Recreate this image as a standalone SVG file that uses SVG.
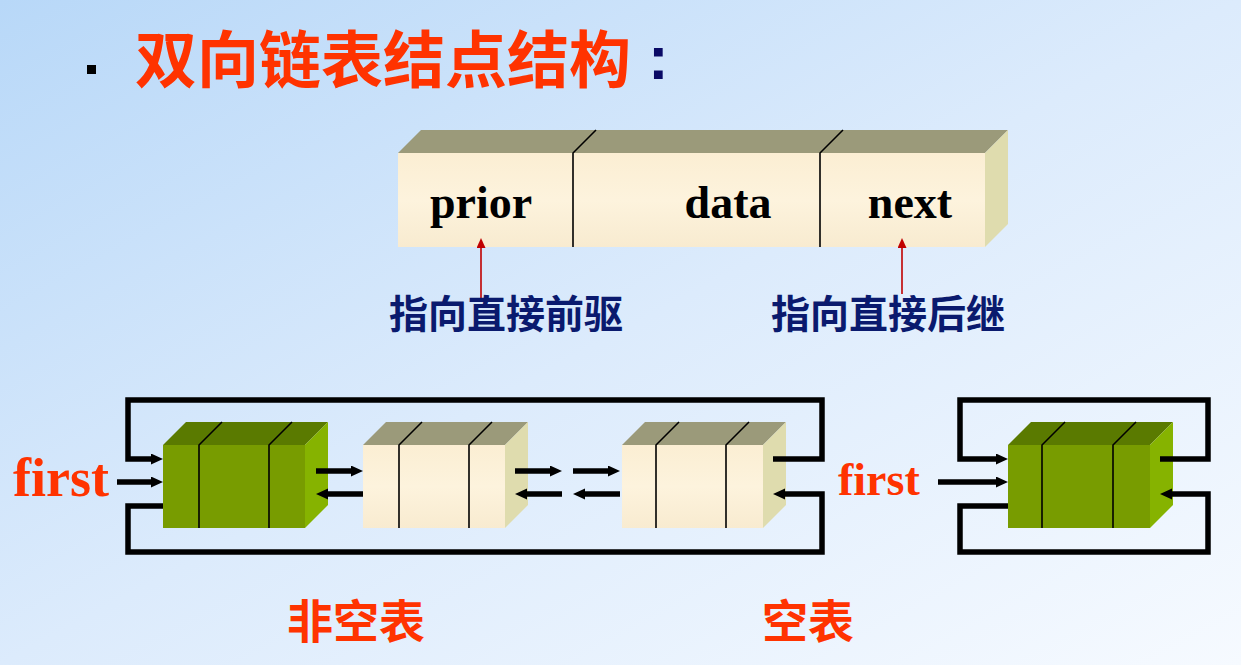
<svg xmlns="http://www.w3.org/2000/svg" width="1241" height="665" viewBox="0 0 1241 665">
<defs>
<linearGradient id="bg" x1="0" y1="0" x2="1" y2="1">
<stop offset="0" stop-color="#b8d8f8"/>
<stop offset="0.5" stop-color="#dcebfc"/>
<stop offset="1" stop-color="#f6faff"/>
</linearGradient>
<linearGradient id="cream" x1="0" y1="0" x2="0" y2="1">
<stop offset="0" stop-color="#fbeed3"/>
<stop offset="0.5" stop-color="#fdf3dd"/>
<stop offset="1" stop-color="#f8ebd0"/>
</linearGradient>
<marker id="ah" markerUnits="userSpaceOnUse" markerWidth="14" markerHeight="12" refX="3" refY="5.5" orient="auto">
<path d="M0,0 L12,5.5 L0,11 z" fill="#000"/>
</marker>
<marker id="rh" markerUnits="userSpaceOnUse" markerWidth="10" markerHeight="10" refX="2" refY="4.5" orient="auto">
<path d="M0,0 L10,4.5 L0,9 z" fill="#c00000"/>
</marker>
<style>
.cf{fill:url(#cream)}
.ct{fill:#9b9a7a}
.cr{fill:#dfdcae}
.gf{fill:#789c00}
.gt{fill:#5a7a00}
.gr{fill:#86b300}
.dv{stroke:#000;stroke-width:1.6;fill:none}
.lp{stroke:#000;stroke-width:5.5;fill:none;stroke-linejoin:miter}
.ar{stroke:#000;stroke-width:5.5;fill:none;marker-end:url(#ah)}
.red{stroke:#c00000;stroke-width:1.6;fill:none;marker-end:url(#rh)}
.fld{font-family:"Liberation Serif","Times New Roman",serif;font-weight:bold;font-size:46px;fill:#000;text-anchor:middle}
.first{font-family:"Liberation Serif","Times New Roman",serif;font-weight:bold;fill:#ff3300}
.cjk{font-family:"Noto Sans CJK SC","Noto Sans CJK TC",sans-serif;font-weight:bold}
.blue{fill:#0a1a6e;font-size:39px;text-anchor:middle}
.orange{fill:#ff3300}
</style>
</defs>
<rect width="1241" height="665" fill="url(#bg)"/>

<g id="title">
<rect x="87" y="65" width="9" height="9" fill="#000"/>
<text class="cjk orange" x="135" y="83" font-size="62">双向链表结点结构</text>
<text x="648" y="79" font-family="Liberation Sans,Arial,sans-serif" font-weight="bold" font-size="62" fill="#0a0a66">:</text>
</g>

<g id="node-struct">
<polygon class="ct" points="398,153 421,130 1008,130 985,153"/>
<polygon class="cr" points="985,153 1008,130 1008,224 985,247"/>
<rect class="cf" x="398" y="153" width="587" height="94"/>
<path class="dv" d="M573,247 V153 L596,130 M820,247 V153 L843,130"/>
<text class="fld" x="481" y="218">prior</text>
<text class="fld" x="728" y="218">data</text>
<text class="fld" x="910" y="218">next</text>
</g>

<g id="labels-struct">
<path class="red" d="M481,300 V246"/>
<path class="red" d="M902,294 V246"/>
<text class="cjk blue" x="506" y="328">指向直接前驱</text>
<text class="cjk blue" x="888" y="328">指向直接后继</text>
</g>

<g id="n1">
<polygon class="gt" points="163,445 186,422 328,422 305,445"/>
<polygon class="gr" points="305,445 328,422 328,505 305,528"/>
<rect class="gf" x="163" y="445" width="142" height="83"/>
<path class="dv" d="M199,528 V445 L222,422 M269,528 V445 L292,422"/>
</g>
<g id="n2">
<polygon class="ct" points="363,445 386,422 528,422 505,445"/>
<polygon class="cr" points="505,445 528,422 528,505 505,528"/>
<rect class="cf" x="363" y="445" width="142" height="83"/>
<path class="dv" d="M399,528 V445 L422,422 M469,528 V445 L492,422"/>
</g>
<g id="n3">
<polygon class="ct" points="622,445 645,422 786,422 763,445"/>
<polygon class="cr" points="763,445 786,422 786,505 763,528"/>
<rect class="cf" x="622" y="445" width="141" height="83"/>
<path class="dv" d="M656,528 V445 L679,422 M726,528 V445 L749,422"/>
</g>
<g id="n4">
<polygon class="gt" points="1008,445 1031,422 1173,422 1150,445"/>
<polygon class="gr" points="1150,445 1173,422 1173,505 1150,528"/>
<rect class="gf" x="1008" y="445" width="142" height="83"/>
<path class="dv" d="M1042,528 V445 L1065,422 M1113,528 V445 L1136,422"/>
</g>

<g id="connectors">
<path class="ar" d="M773,459 H822 V400 H128 V459 H154"/>
<path class="ar" d="M163,506 H128 V552 H822 V494 H782"/>
<path class="ar" d="M117,482 H154"/>
<path class="ar" d="M316,471 H354"/>
<path class="ar" d="M363,494 H325"/>
<path class="ar" d="M515,471 H553"/>
<path class="ar" d="M573,471 H611"/>
<path class="ar" d="M562,494 H524"/>
<path class="ar" d="M620,494 H582"/>
<path class="ar" d="M1160,459 H1208 V400 H960 V459 H999"/>
<path class="ar" d="M1008,506 H960 V552 H1208 V494 H1169"/>
<path class="ar" d="M938,482 H999"/>
</g>

<g id="texts">
<text class="first" x="13" y="496" font-size="54">first</text>
<text class="first" x="838" y="495" font-size="46">first</text>
<text class="cjk orange" x="356" y="638" font-size="46" text-anchor="middle">非空表</text>
<text class="cjk orange" x="808" y="638" font-size="46" text-anchor="middle">空表</text>
</g>
</svg>
